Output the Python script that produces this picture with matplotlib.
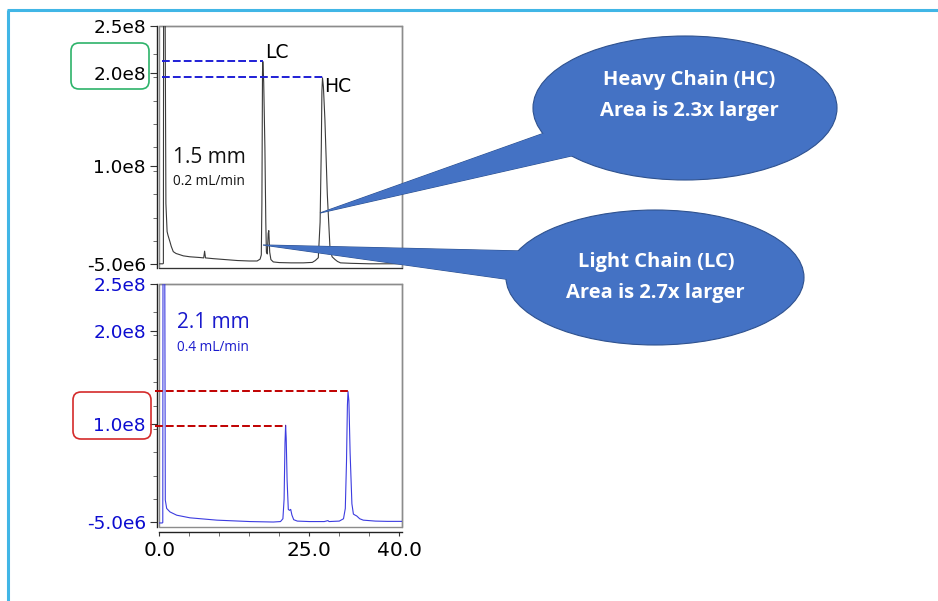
import matplotlib
matplotlib.use("Agg")
import matplotlib.pyplot as plt
from matplotlib.patches import Ellipse, Polygon, FancyBboxPatch, Rectangle

# ---------------- data (intensity in millions of counts) ----------------
top_t = [0.0, 0.6, 0.68, 0.72, 0.95, 1.1, 1.3, 1.45, 1.78, 2.0, 2.33, 2.8, 3.2, 4.0,
         5.1, 6.8, 7.4, 7.55, 7.7, 9.0, 11.0, 13.0, 15.0, 16.3, 16.8, 17.0, 17.1,
         17.2, 17.25, 17.4, 17.6, 17.75, 17.85, 18.0, 18.15, 18.25, 18.4, 18.6, 19.0,
         20.0, 22.0, 24.0, 25.5, 26.0, 26.5, 26.8, 27.0, 27.1, 27.2, 27.35, 27.6,
         28.0, 28.45, 28.8, 29.3, 29.7, 30.2, 32.0, 35.0, 38.0, 40.4]
top_y = [-4.5, -4.5, -4.0, 300, 300, 60, 30, 26, 19, 14, 8.5, 6.5, 5.7, 4.0,
         3.0, 2.2, 1.8, 9.0, 1.8, 1.0, 0.0, -1.0, -1.5, -1.5, 0.5, 5.0, 60,
         200, 212, 190, 120, 40, 8, 6, 28, 31, 8, 0, -2.5,
         -3.2, -3.5, -3.5, -3.0, -1.0, 2.0, 40, 120, 180, 194.5, 185, 150,
         70, 12, 3, 0, -2, -3.5, -4.0, -4.5, -4.5, -4.5]

bot_t = [0.0, 0.5, 0.58, 0.62, 0.9, 1.0, 1.23, 1.78, 2.9, 5.1, 9.6, 15.1, 19.0,
         20.2, 20.6, 20.8, 20.95, 21.05, 21.15, 21.3, 21.5, 21.7, 21.9, 22.1, 22.4,
         23.0, 25.0, 27.5, 28.1, 28.3, 30.0, 30.7, 31.0, 31.2, 31.35, 31.45, 31.6,
         31.8, 32.1, 32.35, 32.6, 32.9, 33.4, 34.0, 35.0, 36.0, 38.0, 40.4]
bot_y = [-5.5, -5.5, -5.0, 300, 300, 19, 10, 6.3, 2.8, 0.0, -2.5, -4.0, -4.5,
         -4.0, -1.0, 20, 80, 99, 85, 40, 9, 8, 9, 3, -2,
         -3.5, -4.0, -4.0, -3.0, -4.0, -3.5, -1.0, 10, 60, 120, 135, 125,
         70, 15, 4, 3, 2, -1, -2.5, -3.0, -3.5, -3.8, -3.8]

# peak marker levels (retention time, height)
top_peak_t = [17.25, 27.2]
top_peak_h = [213, 195]
bot_peak_t = [21.05, 31.45]
bot_peak_h = [98, 136]
peak_names = ["LC", "HC"]

ytick_vals = [-5e6, 1e8, 2e8, 2.5e8]
ytick_labels = ["-5.0e6", "1.0e8", "2.0e8", "2.5e8"]
yminor_vals = [2e7, 4.5e7, 7e7, 9.5e7, 1.2e8, 1.45e8, 1.7e8, 1.95e8, 2.2e8]
xtick_vals = [0, 25, 40]
xtick_labels = ["0.0", "25.0", "40.0"]
xminor_vals = [5, 10, 15, 20, 30, 35]

M = 1e6
W, H = 938, 601
fig = plt.figure(figsize=(W / 100, H / 100), dpi=100)
fig.patch.set_facecolor("white")

GREY = "#8c8c8c"


def setup(ax, label_color, ylim_low, show_x):
    ax.set_xlim(0, 40.45)
    ax.set_ylim(ylim_low, 2.5e8)
    for s in ["top", "right"]:
        ax.spines[s].set_color(GREY)
        ax.spines[s].set_linewidth(1.0)
    ax.spines["left"].set_color("#222222")
    ax.spines["left"].set_linewidth(1.0)
    ax.spines["left"].set_position(("outward", 1.7))
    ax.add_patch(Rectangle((0, 0), 1, 1, transform=ax.transAxes, fill=False,
                           ec=GREY, lw=1.0, clip_on=False, zorder=1))
    ax.set_yticks(ytick_vals)
    ax.set_yticklabels(ytick_labels)
    ax.set_yticks(yminor_vals, minor=True)
    ax.tick_params(axis="y", which="major", length=5, width=0.8, pad=3,
                   labelsize=13.3, labelcolor=label_color, color="#333333")
    ax.tick_params(axis="y", which="minor", length=3, width=0.6, color="#555555")
    if show_x:
        ax.spines["bottom"].set_color("#222222")
        ax.spines["bottom"].set_linewidth(1.0)
        ax.spines["bottom"].set_position(("outward", 3.6))
        ax.set_xticks(xtick_vals)
        ax.set_xticklabels(xtick_labels)
        ax.set_xticks(xminor_vals, minor=True)
        ax.tick_params(axis="x", which="major", length=3, width=0.8, pad=4,
                       labelsize=14.5, color="#333333")
        ax.tick_params(axis="x", which="minor", length=3, width=0.6, color="#555555")
    else:
        ax.spines["bottom"].set_color("#333333")
        ax.set_xticks([])


# ---------------- top chromatogram (1.5 mm) ----------------
ax1 = fig.add_axes([159.3 / W, 1 - 268 / H, 242.7 / W, 242 / H])
setup(ax1, "black", -9e6, False)
ax1.plot(top_t, [v * M for v in top_y], color="#3a3a3a", lw=0.8, zorder=3)
for t, h in zip(top_peak_t, top_peak_h):
    ax1.plot([0.5, t], [h * M, h * M], color="#1f1fd6", lw=1.4,
             linestyle=(0, (4, 1.6)), zorder=4)

# ---------------- bottom chromatogram (2.1 mm) ----------------
ax2 = fig.add_axes([159.3 / W, 1 - 526.7 / H, 242.7 / W, 242.7 / H])
setup(ax2, "#0c0cd0", -9.5e6, True)
ax2.plot(bot_t, [v * M for v in bot_y], color="#3c3ce0", lw=0.8, zorder=3)
for t, h in zip(bot_peak_t, bot_peak_h):
    ax2.plot([-0.75, t], [h * M, h * M], color="#c00000", lw=1.4,
             linestyle=(0, (4, 1.6)), zorder=4, clip_on=False)

# ---------------- overlay (pixel coordinates) ----------------
ov = fig.add_axes([0, 0, 1, 1], zorder=10)
ov.set_xlim(0, W)
ov.set_ylim(H, 0)
ov.axis("off")
ov.patch.set_alpha(0)

# frame lines of the slide
ov.plot([7, W], [10, 10], color="#41b6e6", lw=2.2, solid_capstyle="butt")
ov.plot([8, 8], [10, H], color="#41b6e6", lw=2.2, solid_capstyle="butt")

# peak labels
ov.text(265, 58, peak_names[0], fontsize=13.5, color="black", ha="left", va="baseline")
ov.text(324, 92, peak_names[1], fontsize=13.5, color="black", ha="left", va="baseline")

# column annotations
ov.text(173, 163, "1.5 mm", fontsize=15, family="Open Sans", color="#111111",
        ha="left", va="baseline")
ov.text(173, 185, "0.2 mL/min", fontsize=9.8, family="Open Sans", color="#111111",
        ha="left", va="baseline")
ov.text(177, 328, "2.1 mm", fontsize=15, family="Open Sans", color="#1a1acc",
        ha="left", va="baseline")
ov.text(177, 351, "0.4 mL/min", fontsize=9.8, family="Open Sans", color="#1a1acc",
        ha="left", va="baseline")

# highlight boxes around tick labels
ov.add_patch(FancyBboxPatch((71, 43), 78, 46, boxstyle="round,pad=0,rounding_size=8",
                            fill=False, ec="#2db36a", lw=1.2))
ov.add_patch(FancyBboxPatch((73, 392), 78, 47, boxstyle="round,pad=0,rounding_size=8",
                            fill=False, ec="#d42a2a", lw=1.2))

# callouts
FILL = "#4472c4"
EDGE = "#2f528f"


def callout(center, w, h, tip, b1, b2):
    wedge_pts = [tip, b1, b2]
    ov.add_patch(Polygon(wedge_pts, closed=True, fc=FILL, ec=EDGE, lw=0.8))
    ov.add_patch(Ellipse(center, w, h, fc=FILL, ec=EDGE, lw=0.8))
    ov.add_patch(Polygon(wedge_pts, closed=True, fc=FILL, ec="none", lw=0))


callout((685, 108), 304, 144, (320, 213), (550, 131), (580, 154))
callout((655, 277.5), 298, 135, (263, 245), (522, 251), (512, 280))

tf = dict(fontsize=14.5, family="Open Sans", weight="bold", color="white",
          ha="center", va="baseline")
ov.text(689, 85, "Heavy Chain (HC)", **tf)
ov.text(689, 116, "Area is 2.3x larger", **tf)
ov.text(656, 267, "Light Chain (LC)", **tf)
ov.text(655, 298, "Area is 2.7x larger", **tf)

fig.savefig("out.png", dpi=100)
